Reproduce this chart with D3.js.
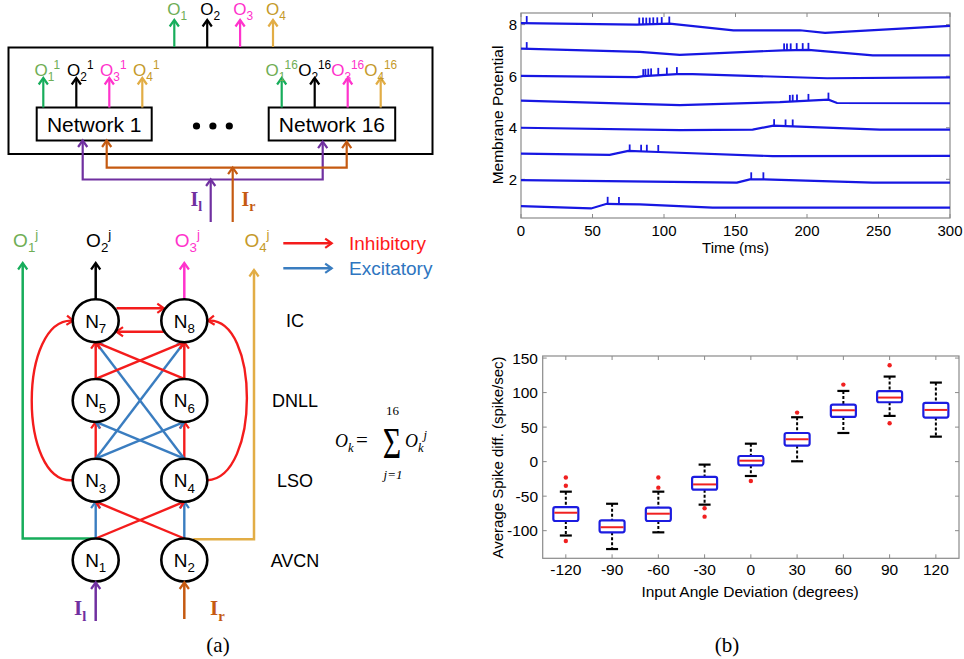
<!DOCTYPE html>
<html>
<head>
<meta charset="utf-8">
<script src="https://cdn.jsdelivr.net/npm/d3@7"></script>
<style>
body { margin: 0; background: #fff; }
text { font-family: "Liberation Sans", Arial, sans-serif; }
text.serif { font-family: "Liberation Serif", "Times New Roman", serif; }
</style>
</head>
<body>
<script>
// ---------- data: (b) top, membrane potential traces ----------
// baseline points [time ms, potential] and spikes [time ms, potential at foot]
var traceBase = [
  [[0,0.96],[49,0.87],[60,1.05],[68.5,1.04],[83,1.03],[134,0.9],[300,0.9]],
  [[0,1.97],[151,1.87],[160,2.0],[170,2.0],[246,1.87],[300,1.87]],
  [[0,3.0],[62,2.95],[75,3.1],[96,3.06],[176,2.9],[300,2.91]],
  [[0,4.0],[111,3.91],[162,3.93],[176.5,4.08],[190,4.05],[251,3.93],[300,3.93]],
  [[0,5.05],[111,4.88],[181,4.99],[215,5.09],[221,4.96],[300,4.95]],
  [[0,6.01],[81,5.96],[85.5,6.0],[109,6.08],[120,6.08],[214,5.92],[300,5.95]],
  [[0,7.07],[83,6.94],[111,6.83],[183,7.0],[201,7.02],[246,6.81],[300,6.81]],
  [[0,8.06],[81,8.0],[104,8.04],[148.5,7.78],[195,7.78],[212.6,7.68],[300,7.95]]
];
var traceSpikes = [
  [[60.6,1.05],[68.5,1.04]],
  [[161,2.0],[169.5,2.0]],
  [[76,3.08],[84,3.07],[88,3.07],[96,3.06]],
  [[177,4.06],[185,4.05],[190,4.05]],
  [[188,5.0],[190,5.01],[193,5.02],[201,5.04],[215,5.09]],
  [[85.5,6.0],[87,6.01],[89,6.02],[91,6.03],[96,6.05],[102,6.06],[109,6.08]],
  [[4,7.05],[184,7.0],[186,7.0],[188.6,7.0],[192.8,7.01],[197,7.01],[201,7.02]],
  [[4,8.06],[82.7,8.0],[85.3,8.0],[87.6,8.0],[90,8.0],[92.5,8.01],[95.3,8.01],[98.4,8.02],[103.7,8.04]]
];
var timeTicks = [0, 50, 100, 150, 200, 250, 300];
var potTicks = [2, 4, 6, 8];

// ---------- data: (b) bottom, box plot ----------
var angles = ["-120", "-90", "-60", "-30", "0", "30", "60", "90", "120"];
var whiskLo = [-107, -126.6, -102.4, -62.3, -20.8, 0.5, 41.5, 66.2, 36.2];
var boxLo   = [-86, -102.4, -86, -40.6, -5.3, 23.2, 64.7, 86, 63.8];
var medians = [-74, -95, -75.4, -33, 1.4, 32.4, 74.4, 92.8, 74.9];
var boxHi   = [-66, -85, -66.7, -22, 8.2, 41.5, 82.6, 102, 85];
var whiskHi = [-43.5, -61, -43.5, -4.3, 26, 64.3, 102.4, 123.2, 114.5];
var outliers = [[-23, -35, -115], [], [-23, -37.7], [-67.6, -79.7], [-28], [71], [111.6], [139.6, 55.6], []];
var spikeTicks = [-100, -50, 0, 50, 100, 150];

// ---------- data: (a) network diagram ----------
var outNames = ["1", "2", "3", "4"];
var outArrowColors = ["#17ad5b", "#000000", "#ff33cc", "#e2ad45"];
var outTextColors = ["#6fae55", "#000000", "#ff33cc", "#c59a2a"];
var networks = ["Network 1", "Network 16"];
var netIndex = ["1", "16"];
var layers = ["AVCN", "LSO", "DNLL", "IC"];
var nodes = [
  {id: "1", col: 0, layer: 0}, {id: "2", col: 1, layer: 0},
  {id: "3", col: 0, layer: 1}, {id: "4", col: 1, layer: 1},
  {id: "5", col: 0, layer: 2}, {id: "6", col: 1, layer: 2},
  {id: "7", col: 0, layer: 3}, {id: "8", col: 1, layer: 3}
];
var edges = [
  ["1", "3", "exc"], ["2", "4", "exc"], ["1", "4", "inh"], ["2", "3", "inh"],
  ["3", "5", "inh"], ["4", "6", "inh"], ["3", "6", "exc"], ["4", "5", "exc"],
  ["3", "8", "exc"], ["4", "7", "exc"], ["5", "7", "inh"], ["6", "8", "inh"],
  ["5", "8", "inh"], ["6", "7", "inh"]
];

var RED = "#f41c1c", BLUE = "#3a7dc0", PURPLE = "#7030a0", ORANGE = "#c55a11";

var svg = d3.select("body").append("svg").attr("width", 964).attr("height", 659);
svg.append("rect").attr("width", 964).attr("height", 659).attr("fill", "#fff");

// arrow markers, one per colour
var defs = svg.append("defs");
var markerColors = {inh: RED, exc: BLUE, purple: PURPLE, orange: ORANGE, black: "#000",
  o0: outArrowColors[0], o1: outArrowColors[1], o2: outArrowColors[2], o3: outArrowColors[3]};
Object.keys(markerColors).forEach(function(k) {
  defs.append("marker").attr("id", "arr-" + k)
    .attr("viewBox", "0 -6 9 12").attr("refX", 7.5).attr("refY", 0)
    .attr("markerWidth", 9).attr("markerHeight", 12)
    .attr("markerUnits", "userSpaceOnUse").attr("orient", "auto-start-reverse")
    .style("overflow", "visible")
    .append("path").attr("d", "M1,-4.6L7.5,0L1,4.6")
    .attr("fill", "none").attr("stroke", markerColors[k]).attr("stroke-width", 2.2);
});

// text with sub/superscripts
function rich(g, x, y, parts, size, color, anchor, serif, italic) {
  var t = g.append("text").attr("x", x).attr("y", y)
    .attr("text-anchor", anchor || "middle").attr("fill", color)
    .style("font-size", size + "px");
  if (serif) t.attr("class", "serif");
  if (italic) t.style("font-style", "italic");
  var shift = 0;
  parts.forEach(function(p) {
    var target = p.s === "sub" ? size * 0.28 : p.s === "sup" ? -size * 0.42 : 0;
    t.append("tspan").attr("dy", target - shift)
      .style("font-size", (p.s ? size * 0.7 : size) + "px").text(p.t);
    shift = target;
  });
  return t;
}
function arrowPath(g, d, key, w, both) {
  var p = g.append("path").attr("d", d).attr("fill", "none")
    .attr("stroke", markerColors[key]).attr("stroke-width", w || 2.2)
    .attr("marker-end", "url(#arr-" + key + ")");
  if (both) p.attr("marker-start", "url(#arr-" + key + ")");
  return p;
}

// ================= (a) top: 16 networks =================
var gTop = svg.append("g");
gTop.append("rect").attr("x", 8.5).attr("y", 47.5).attr("width", 424).attr("height", 106.5)
  .attr("fill", "none").attr("stroke", "#000").attr("stroke-width", 2);

var topOutX = d3.scalePoint().domain(outNames).range([174.3, 273]);
outNames.forEach(function(k, i) {
  arrowPath(gTop, "M" + topOutX(k) + ",47L" + topOutX(k) + ",20", i === 1 ? "black" : "o" + i, 2.2);
  rich(gTop, topOutX(k) + 3, 15, [{t: "O"}, {t: k, s: "sub"}], 17, outTextColors[i]);
});

var netBox = [{x: 36.7, w: 115, pad: 6.6}, {x: 268.7, w: 126.5, pad: 13}];
networks.forEach(function(name, n) {
  var b = netBox[n];
  gTop.append("rect").attr("x", b.x).attr("y", 107.5).attr("width", b.w).attr("height", 33)
    .attr("fill", "#fff").attr("stroke", "#000").attr("stroke-width", 2);
  gTop.append("text").attr("x", b.x + b.w / 2).attr("y", 131.5).attr("text-anchor", "middle")
    .style("font-size", "21px").text(name);
  outNames.forEach(function(k, i) {
    var ax = b.x + b.pad + i * 33;
    arrowPath(gTop, "M" + ax + ",107.5L" + ax + ",78", i === 1 ? "black" : "o" + i, 2.2);
    rich(gTop, ax + (n === 0 ? 4 : 0), 76, [{t: "O"}, {t: k, s: "sub"}, {t: netIndex[n], s: "sup"}],
      17, outTextColors[i]);
  });
});
gTop.selectAll("circle.dot").data([0, 1, 2]).enter().append("circle")
  .attr("cx", function(d) { return 196.5 + d * 16.4; }).attr("cy", 126).attr("r", 3.6).attr("fill", "#000");

// inputs
arrowPath(gTop, "M82.7,140.5L82.7,179.5L322.7,179.5L322.7,141.7", "purple", 2.2, true);
arrowPath(gTop, "M210.7,222L210.7,179.5", "purple", 2.2);
arrowPath(gTop, "M106.7,140.5L106.7,167.7L346.7,167.7L346.7,141.7", "orange", 2.2, true);
arrowPath(gTop, "M232.7,222L232.7,167.7", "orange", 2.2);
rich(gTop, 190.5, 205.5, [{t: "I"}, {t: "l", s: "sub"}], 20, PURPLE, "start", true).style("font-weight", "bold");
rich(gTop, 241.5, 205.5, [{t: "I"}, {t: "r", s: "sub"}], 20, ORANGE, "start", true).style("font-weight", "bold");

// ================= (a) bottom: one network =================
var gNet = svg.append("g");
var colX = d3.scaleLinear().domain([0, 1]).range([95.7, 184.3]);
var layerY = d3.scaleLinear().domain([0, 3]).range([560, 320.7]);
var RX = 23, RY = 21.5;
var byId = {};
nodes.forEach(function(d) { byId[d.id] = d; });

// outputs
arrowPath(gNet, "M95.7," + (layerY(0) - RY) + "L22.7," + (layerY(0) - RY) + "L22.7,263", "o0", 2.5);
arrowPath(gNet, "M193.3," + (layerY(0) - RY + 0.8) + "L254," + (layerY(0) - RY + 0.8) + "L254,270", "o3", 2.5);
arrowPath(gNet, "M" + colX(0) + "," + (layerY(3) - RY) + "L" + colX(0) + ",263", "black", 2.5);
arrowPath(gNet, "M" + colX(1) + "," + (layerY(3) - RY) + "L" + colX(1) + ",263", "o2", 2.5);
outNames.forEach(function(k, i) {
  var x = [22.7, colX(0), colX(1), 254][i];
  rich(gNet, x + 3, 246.5, [{t: "O"}, {t: k, s: "sub"}, {t: "j", s: "sup"}], 19, outTextColors[i]);
});

// straight connections: top of lower node to bottom of upper node
edges.forEach(function(e) {
  var a = byId[e[0]], b = byId[e[1]];
  arrowPath(gNet, "M" + colX(a.col) + "," + (layerY(a.layer) - RY) +
    "L" + colX(b.col) + "," + (layerY(b.layer) + RY), e[2], 2.4);
});
// mutual inhibition N7 <-> N8
var yIC = layerY(3);
arrowPath(gNet, "M116.5," + (yIC - 12.4) + "L163.8," + (yIC - 12.4), "inh", 2.4);
arrowPath(gNet, "M163.8," + (yIC + 11) + "L116.5," + (yIC + 11), "inh", 2.4);
// long loops N3 -> N7, N4 -> N8
arrowPath(gNet, "M" + (colX(0) - RX) + "," + layerY(1) + "C18," + (layerY(1) + 4) + " 18," + (yIC - 4) +
  " " + (colX(0) - RX + 0.5) + "," + yIC, "inh", 2.4);
arrowPath(gNet, "M" + (colX(1) + RX) + "," + layerY(1) + "C260," + (layerY(1) - 2) + " 260," + (yIC - 4) +
  " " + (colX(1) + RX + 0.5) + "," + yIC, "inh", 2.4);

// nodes
var gNode = gNet.selectAll("g.node").data(nodes).enter().append("g")
  .attr("transform", function(d) { return "translate(" + colX(d.col) + "," + layerY(d.layer) + ")"; });
gNode.append("ellipse").attr("rx", RX).attr("ry", RY).attr("fill", "#fff")
  .attr("stroke", "#000").attr("stroke-width", 2.6);
gNode.each(function(d) {
  rich(d3.select(this), 0, 7, [{t: "N"}, {t: d.id, s: "sub"}], 19, "#000");
});

// layer names
layers.forEach(function(name, i) {
  gNet.append("text").attr("x", 295).attr("y", layerY(i) + 6.5).attr("text-anchor", "middle")
    .style("font-size", "18px").text(name);
});

// inputs
arrowPath(gNet, "M" + colX(0) + ",621L" + colX(0) + "," + (layerY(0) + RY + 1), "purple", 2.5);
arrowPath(gNet, "M" + colX(1) + ",619L" + colX(1) + "," + (layerY(0) + RY + 1), "orange", 2.5);
rich(gNet, 74, 615, [{t: "I"}, {t: "l", s: "sub"}], 21, PURPLE, "start", true).style("font-weight", "bold");
rich(gNet, 210, 615, [{t: "I"}, {t: "r", s: "sub"}], 21, ORANGE, "start", true).style("font-weight", "bold");

// legend
arrowPath(gNet, "M283.3,243.3L331.7,243.3", "inh", 2.5);
arrowPath(gNet, "M283.3,268.3L331.7,268.3", "exc", 2.5);
gNet.append("text").attr("x", 349).attr("y", 250).attr("fill", "#ff1a1a").style("font-size", "19px").text("Inhibitory");
gNet.append("text").attr("x", 349).attr("y", 275).attr("fill", "#2e75c0").style("font-size", "19px").text("Excitatory");

// formula
var gF = svg.append("g");
rich(gF, 335, 446.5, [{t: "O"}, {t: "k", s: "sub"}], 18, "#000", "start", true, true);
gF.append("text").attr("class", "serif").attr("x", 362).attr("y", 446.5).attr("text-anchor", "middle")
  .style("font-size", "21px").text("=");
gF.append("text").attr("class", "serif").attr("transform", "translate(392,458) scale(0.72,1)")
  .attr("text-anchor", "middle").style("font-size", "44px").text("Σ");
gF.append("text").attr("class", "serif").attr("x", 392.5).attr("y", 415).attr("text-anchor", "middle")
  .style("font-size", "13px").text("16");
gF.append("text").attr("class", "serif").attr("x", 393).attr("y", 479).attr("text-anchor", "middle")
  .style("font-size", "13px").style("font-style", "italic").text("j=1");
rich(gF, 405, 446.5, [{t: "O"}, {t: "k", s: "sub"}, {t: "j", s: "sup"}], 18, "#000", "start", true, true);

svg.append("text").attr("class", "serif").attr("x", 218).attr("y", 652).attr("text-anchor", "middle")
  .style("font-size", "21px").text("(a)");
svg.append("text").attr("class", "serif").attr("x", 727).attr("y", 652).attr("text-anchor", "middle")
  .style("font-size", "21px").text("(b)");

// ================= (b) top: traces =================
var AX = "#8a8a8a";
var tx = d3.scaleLinear().domain([0, 300]).range([521, 950]);
var vy = d3.scaleLinear().domain([0.5, 8.45]).range([218, 13]);
var gT = svg.append("g");
gT.append("rect").attr("x", 521).attr("y", 13).attr("width", 429).attr("height", 205)
  .attr("fill", "none").attr("stroke", AX).attr("stroke-width", 1.2);
timeTicks.forEach(function(t) {
  gT.append("line").attr("x1", tx(t)).attr("x2", tx(t)).attr("y1", 218).attr("y2", 214).attr("stroke", AX);
  gT.append("line").attr("x1", tx(t)).attr("x2", tx(t)).attr("y1", 13).attr("y2", 17).attr("stroke", AX);
  gT.append("text").attr("x", tx(t)).attr("y", 236).attr("text-anchor", "middle")
    .style("font-size", "15px").text(t);
});
potTicks.forEach(function(v) {
  gT.append("line").attr("x1", 521).attr("x2", 525).attr("y1", vy(v)).attr("y2", vy(v)).attr("stroke", AX);
  gT.append("line").attr("x1", 950).attr("x2", 946).attr("y1", vy(v)).attr("y2", vy(v)).attr("stroke", AX);
  gT.append("text").attr("x", 517).attr("y", vy(v) + 5.5).attr("text-anchor", "end")
    .style("font-size", "15px").text(v);
});
gT.append("text").attr("x", tx(150)).attr("y", 252.5).attr("text-anchor", "middle")
  .style("font-size", "15px").text("Time (ms)");
gT.append("text").attr("transform", "translate(503,115) rotate(-90)").attr("text-anchor", "middle")
  .style("font-size", "15.5px").text("Membrane Potential");

var line = d3.line().x(function(d) { return tx(d[0]); }).y(function(d) { return vy(d[1]); });
traceBase.forEach(function(pts, i) {
  gT.append("path").attr("d", line(pts)).attr("fill", "none")
    .attr("stroke", "#1717e2").attr("stroke-width", 2.2);
  gT.selectAll(null).data(traceSpikes[i]).enter().append("line")
    .attr("x1", function(d) { return tx(d[0]); }).attr("x2", function(d) { return tx(d[0]); })
    .attr("y1", function(d) { return vy(d[1]); }).attr("y2", function(d) { return vy(d[1]) - 7; })
    .attr("stroke", "#1717e2").attr("stroke-width", 1.8);
});

// ================= (b) bottom: box plot =================
var bx = d3.scaleBand().domain(angles).range([542.7, 959]).paddingInner(0).paddingOuter(0);
var by = d3.scaleLinear().domain([-140, 153]).range([558.3, 356]);
var gB = svg.append("g");
gB.append("rect").attr("x", 542.7).attr("y", 356).attr("width", 959 - 542.7).attr("height", 202.3)
  .attr("fill", "none").attr("stroke", AX).attr("stroke-width", 1.2);
spikeTicks.forEach(function(v) {
  gB.append("line").attr("x1", 542.7).attr("x2", 546.7).attr("y1", by(v)).attr("y2", by(v)).attr("stroke", AX);
  gB.append("line").attr("x1", 959).attr("x2", 955).attr("y1", by(v)).attr("y2", by(v)).attr("stroke", AX);
  gB.append("text").attr("x", 538).attr("y", by(v) + 5.5).attr("text-anchor", "end")
    .style("font-size", "15.5px").text(v);
});
angles.forEach(function(a, i) {
  var cx = bx(a) + bx.bandwidth() / 2;
  gB.append("line").attr("x1", cx).attr("x2", cx).attr("y1", 558.3).attr("y2", 554.3).attr("stroke", AX);
  gB.append("line").attr("x1", cx).attr("x2", cx).attr("y1", 356).attr("y2", 360).attr("stroke", AX);
  gB.append("text").attr("x", cx).attr("y", 575).attr("text-anchor", "middle")
    .style("font-size", "15.5px").text(a);
  var g = gB.append("g");
  // whiskers
  [[whiskHi[i], boxHi[i]], [boxLo[i], whiskLo[i]]].forEach(function(w) {
    g.append("line").attr("x1", cx).attr("x2", cx).attr("y1", by(w[0])).attr("y2", by(w[1]))
      .attr("stroke", "#000").attr("stroke-width", 2).attr("stroke-dasharray", "3,2");
  });
  [whiskHi[i], whiskLo[i]].forEach(function(v) {
    g.append("line").attr("x1", cx - 6).attr("x2", cx + 6).attr("y1", by(v)).attr("y2", by(v))
      .attr("stroke", "#000").attr("stroke-width", 2.2);
  });
  g.append("rect").attr("x", cx - 12.5).attr("width", 25)
    .attr("y", by(boxHi[i])).attr("height", by(boxLo[i]) - by(boxHi[i]))
    .attr("rx", 2).attr("fill", "#fff").attr("stroke", "#1c1ce0").attr("stroke-width", 2.2);
  g.append("line").attr("x1", cx - 11.5).attr("x2", cx + 11.5)
    .attr("y1", by(medians[i])).attr("y2", by(medians[i]))
    .attr("stroke", "#f02020").attr("stroke-width", 2);
  g.selectAll("circle").data(outliers[i]).enter().append("circle")
    .attr("cx", cx).attr("cy", function(d) { return by(d); }).attr("r", 2.2).attr("fill", "#f02020");
});
gB.append("text").attr("x", 750).attr("y", 597).attr("text-anchor", "middle")
  .style("font-size", "15.5px").text("Input Angle Deviation (degrees)");
gB.append("text").attr("transform", "translate(503,457.5) rotate(-90)").attr("text-anchor", "middle")
  .style("font-size", "15px").text("Average Spike diff. (spike/sec)");
</script>
</body>
</html>
